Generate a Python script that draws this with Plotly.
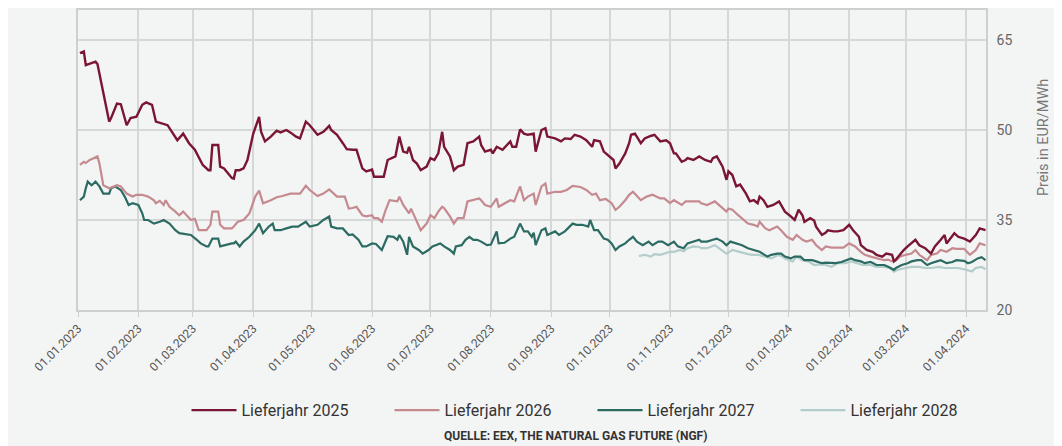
import plotly.graph_objects as go

# ---------------- data ----------------
dates_2025 = ["2023-01-02","2023-01-04","2023-01-05","2023-01-08","2023-01-10","2023-01-11","2023-01-17","2023-01-18",
"2023-01-21","2023-01-23","2023-01-26","2023-01-28","2023-01-31","2023-02-03","2023-02-05","2023-02-08","2023-02-10",
"2023-02-16","2023-02-19","2023-02-21","2023-02-24","2023-02-27","2023-03-02","2023-03-06","2023-03-09","2023-03-10",
"2023-03-11","2023-03-14","2023-03-15","2023-03-17","2023-03-21","2023-03-22","2023-03-23","2023-03-25","2023-03-27",
"2023-03-29","2023-04-01","2023-04-04","2023-04-05","2023-04-07","2023-04-10","2023-04-13","2023-04-15","2023-04-18",
"2023-04-20","2023-04-23","2023-04-25","2023-04-28","2023-04-30","2023-05-04","2023-05-07","2023-05-10","2023-05-11",
"2023-05-14","2023-05-17","2023-05-19","2023-05-22","2023-05-24","2023-05-27","2023-05-29","2023-06-01","2023-06-02",
"2023-06-07","2023-06-09","2023-06-13","2023-06-15","2023-06-17","2023-06-19","2023-06-20","2023-06-22","2023-06-24",
"2023-06-26","2023-06-29","2023-07-01","2023-07-03","2023-07-05","2023-07-07","2023-07-08","2023-07-11","2023-07-13",
"2023-07-15","2023-07-18","2023-07-20","2023-07-23","2023-07-26","2023-07-27","2023-07-29","2023-08-01","2023-08-02",
"2023-08-04","2023-08-07","2023-08-09","2023-08-11","2023-08-12","2023-08-14","2023-08-16","2023-08-18","2023-08-20",
"2023-08-23","2023-08-24","2023-08-27","2023-08-29","2023-08-30","2023-09-03","2023-09-06","2023-09-08","2023-09-11",
"2023-09-13","2023-09-16","2023-09-19","2023-09-22","2023-09-23","2023-09-26","2023-09-28","2023-09-30","2023-10-03",
"2023-10-04","2023-10-06","2023-10-09","2023-10-11","2023-10-12","2023-10-14","2023-10-17","2023-10-19","2023-10-22",
"2023-10-24","2023-10-27","2023-10-30","2023-11-01","2023-11-03","2023-11-04","2023-11-07","2023-11-09","2023-11-10",
"2023-11-13","2023-11-16","2023-11-19","2023-11-22","2023-11-23","2023-11-25","2023-11-28","2023-11-30","2023-12-01",
"2023-12-03","2023-12-05","2023-12-07","2023-12-10","2023-12-12","2023-12-14","2023-12-16","2023-12-17","2023-12-19",
"2023-12-21","2023-12-24","2023-12-27","2023-12-30","2024-01-02","2024-01-04","2024-01-06","2024-01-08","2024-01-09",
"2024-01-12","2024-01-14","2024-01-15","2024-01-18","2024-01-20","2024-01-21","2024-01-24","2024-01-26","2024-01-29",
"2024-02-01","2024-02-03","2024-02-06","2024-02-07","2024-02-10","2024-02-13","2024-02-15","2024-02-18","2024-02-20",
"2024-02-23","2024-02-24","2024-02-25","2024-02-27","2024-02-29","2024-03-02","2024-03-04","2024-03-06","2024-03-08",
"2024-03-11","2024-03-14","2024-03-16","2024-03-19","2024-03-21","2024-03-22","2024-03-24","2024-03-26","2024-03-28",
"2024-03-31","2024-04-03","2024-04-06","2024-04-08","2024-04-11"]
values_2025 = [62.8,63.1,60.8,61.1,61.4,61.0,51.4,52.0,
54.4,54.3,50.8,52.0,52.2,54.2,54.6,54.2,51.4,
50.8,49.4,48.3,49.4,47.8,46.7,44.2,43.3,43.3,
47.5,47.5,43.9,43.6,42.0,41.9,43.3,43.3,43.6,
45.0,49.4,52.2,49.7,48.1,48.9,49.9,49.6,50.0,
49.6,48.9,48.6,51.4,50.8,49.2,49.7,50.7,50.0,
49.2,47.8,46.8,46.7,46.7,43.6,43.1,43.4,42.2,
42.2,45.0,45.6,48.9,46.4,46.2,47.2,45.0,44.4,
43.3,43.9,45.3,45.0,46.1,49.7,47.2,45.6,43.3,
43.9,44.2,47.8,48.1,48.9,47.5,46.4,46.7,46.1,
47.2,46.7,47.5,48.1,47.2,47.2,50.1,49.4,49.2,
49.4,46.4,50.0,50.3,48.9,48.6,48.1,48.6,48.5,
49.2,48.9,48.3,47.2,48.3,48.1,46.4,45.8,45.0,
43.6,44.4,46.1,47.8,49.2,49.4,47.8,48.6,49.0,
49.2,48.1,48.3,47.8,46.1,46.1,44.7,45.0,45.3,
45.0,45.6,45.0,44.7,45.3,45.6,43.9,41.7,43.1,
42.5,40.6,40.9,39.4,38.1,38.3,37.8,38.9,38.3,
37.2,37.5,38.1,36.4,35.6,35.0,36.7,35.8,34.7,
35.3,34.9,33.9,32.5,32.9,33.3,33.1,33.1,33.3,
34.2,33.3,32.2,30.8,30.0,29.7,29.2,28.9,29.4,
29.2,28.1,28.4,29.2,30.0,30.6,31.1,31.7,30.8,
30.3,29.4,30.6,31.7,32.5,31.1,31.9,32.8,32.2,
31.9,31.4,32.5,33.6,33.3]

dates_2026 = ["2023-01-02","2023-01-04","2023-01-05","2023-01-07","2023-01-09","2023-01-11","2023-01-12","2023-01-14",
"2023-01-17","2023-01-19","2023-01-21","2023-01-23","2023-01-26","2023-01-29","2023-01-31","2023-02-03","2023-02-06",
"2023-02-09","2023-02-10","2023-02-12","2023-02-14","2023-02-15","2023-02-17","2023-02-20","2023-02-22","2023-02-24",
"2023-02-26","2023-02-28","2023-03-02","2023-03-04","2023-03-08","2023-03-10","2023-03-11","2023-03-14","2023-03-15",
"2023-03-17","2023-03-21","2023-03-22","2023-03-24","2023-03-27","2023-03-30","2023-04-02","2023-04-04","2023-04-06",
"2023-04-10","2023-04-13","2023-04-16","2023-04-20","2023-04-23","2023-04-25","2023-04-28","2023-04-30","2023-05-04",
"2023-05-07","2023-05-10","2023-05-11","2023-05-14","2023-05-18","2023-05-20","2023-05-22","2023-05-24","2023-05-27",
"2023-05-29","2023-06-01","2023-06-02","2023-06-04","2023-06-06","2023-06-08","2023-06-10","2023-06-14","2023-06-15",
"2023-06-17","2023-06-20","2023-06-21","2023-06-24","2023-06-26","2023-06-29","2023-07-01","2023-07-03","2023-07-05",
"2023-07-07","2023-07-08","2023-07-11","2023-07-13","2023-07-15","2023-07-18","2023-07-20","2023-07-23","2023-07-26",
"2023-07-27","2023-07-29","2023-08-01","2023-08-04","2023-08-05","2023-08-08","2023-08-11","2023-08-13","2023-08-16",
"2023-08-18","2023-08-20","2023-08-23","2023-08-24","2023-08-27","2023-08-29","2023-08-30","2023-09-03","2023-09-06",
"2023-09-09","2023-09-12","2023-09-16","2023-09-19","2023-09-22","2023-09-24","2023-09-26","2023-09-29","2023-10-02",
"2023-10-04","2023-10-06","2023-10-09","2023-10-11","2023-10-13","2023-10-17","2023-10-20","2023-10-23","2023-10-27",
"2023-10-29","2023-11-01","2023-11-03","2023-11-07","2023-11-09","2023-11-13","2023-11-16","2023-11-17","2023-11-20",
"2023-11-24","2023-11-26","2023-11-30","2023-12-01","2023-12-03","2023-12-06","2023-12-08","2023-12-11","2023-12-14",
"2023-12-16","2023-12-17","2023-12-20","2023-12-22","2023-12-26","2023-12-28","2023-12-31","2024-01-03","2024-01-05",
"2024-01-08","2024-01-10","2024-01-13","2024-01-15","2024-01-18","2024-01-20","2024-01-23","2024-01-26","2024-01-29",
"2024-02-01","2024-02-03","2024-02-04","2024-02-07","2024-02-09","2024-02-12","2024-02-15","2024-02-19","2024-02-21",
"2024-02-23","2024-02-25","2024-02-27","2024-03-01","2024-03-04","2024-03-06","2024-03-08","2024-03-12","2024-03-14",
"2024-03-17","2024-03-19","2024-03-22","2024-03-25","2024-03-27","2024-03-31","2024-04-03","2024-04-06","2024-04-08",
"2024-04-11"]
values_2026 = [44.2,44.7,44.5,45.0,45.3,45.6,44.4,40.8,
40.3,40.6,40.8,40.6,39.4,38.9,39.2,39.2,38.9,
38.3,37.8,38.2,37.5,38.3,37.2,36.4,35.8,36.4,
35.6,35.0,35.2,33.3,33.3,34.2,36.4,36.4,34.2,
33.6,33.6,33.9,34.7,35.0,36.1,38.9,39.9,37.8,
38.3,38.8,39.0,39.4,39.4,39.4,40.7,40.0,39.0,
39.4,40.1,39.8,38.9,38.9,36.9,37.0,37.2,35.8,
35.6,35.8,35.3,35.3,34.7,36.7,38.3,38.1,38.9,
37.5,36.1,36.9,34.7,33.3,34.4,35.8,35.3,36.4,
37.2,37.0,35.6,34.4,35.3,35.3,38.1,38.3,38.6,
38.3,37.5,37.2,38.6,37.2,37.8,38.3,38.1,40.6,
38.3,38.9,39.4,37.5,40.6,41.1,39.4,39.7,39.7,
40.0,40.7,40.5,40.0,39.2,39.4,38.3,38.5,37.8,
36.7,37.2,38.3,39.2,39.7,38.3,38.9,39.2,38.6,
38.6,37.8,38.3,37.5,38.1,38.1,38.1,37.8,37.5,
38.1,37.5,36.4,36.9,36.7,35.8,35.3,34.4,34.2,
33.9,34.7,33.6,33.3,33.9,33.3,32.2,31.7,32.5,
31.7,31.4,31.7,30.8,30.0,30.6,30.4,30.4,30.4,
31.1,30.7,30.6,29.7,29.2,28.9,28.6,28.3,28.4,
28.1,28.3,28.9,29.2,29.4,30.0,29.2,28.3,29.2,
29.4,30.0,29.7,30.3,30.2,30.2,29.2,30.0,31.1,
30.8]

dates_2027 = ["2023-01-02","2023-01-04","2023-01-05","2023-01-06","2023-01-08","2023-01-10","2023-01-12","2023-01-14",
"2023-01-17","2023-01-18","2023-01-20","2023-01-23","2023-01-25","2023-01-27","2023-01-29","2023-02-01","2023-02-03",
"2023-02-04","2023-02-06","2023-02-09","2023-02-12","2023-02-14","2023-02-17","2023-02-20","2023-02-22","2023-02-25",
"2023-02-28","2023-03-03","2023-03-05","2023-03-08","2023-03-09","2023-03-11","2023-03-14","2023-03-15","2023-03-17",
"2023-03-21","2023-03-22","2023-03-23","2023-03-25","2023-03-27","2023-03-30","2023-04-02","2023-04-04","2023-04-06",
"2023-04-09","2023-04-11","2023-04-12","2023-04-15","2023-04-18","2023-04-21","2023-04-24","2023-04-28","2023-04-30",
"2023-05-04","2023-05-07","2023-05-10","2023-05-11","2023-05-14","2023-05-17","2023-05-20","2023-05-22","2023-05-25",
"2023-05-27","2023-05-29","2023-06-01","2023-06-03","2023-06-06","2023-06-08","2023-06-09","2023-06-12","2023-06-14",
"2023-06-15","2023-06-17","2023-06-19","2023-06-20","2023-06-22","2023-06-25","2023-06-27","2023-06-30","2023-07-02",
"2023-07-06","2023-07-08","2023-07-11","2023-07-13","2023-07-14","2023-07-17","2023-07-19","2023-07-21","2023-07-23",
"2023-07-25","2023-07-27","2023-07-30","2023-08-01","2023-08-04","2023-08-05","2023-08-08","2023-08-11","2023-08-13",
"2023-08-16","2023-08-18","2023-08-20","2023-08-22","2023-08-23","2023-08-24","2023-08-27","2023-08-29","2023-08-30",
"2023-09-03","2023-09-05","2023-09-08","2023-09-12","2023-09-14","2023-09-17","2023-09-20","2023-09-21","2023-09-23",
"2023-09-25","2023-09-28","2023-09-30","2023-10-02","2023-10-04","2023-10-06","2023-10-09","2023-10-11","2023-10-13",
"2023-10-15","2023-10-18","2023-10-21","2023-10-23","2023-10-26","2023-10-28","2023-10-31","2023-11-03","2023-11-05",
"2023-11-08","2023-11-10","2023-11-13","2023-11-16","2023-11-17","2023-11-20","2023-11-23","2023-11-25","2023-11-28",
"2023-11-30","2023-12-02","2023-12-05","2023-12-08","2023-12-11","2023-12-14","2023-12-17","2023-12-21","2023-12-23",
"2023-12-26","2023-12-28","2023-12-30","2024-01-02","2024-01-04","2024-01-07","2024-01-09","2024-01-13","2024-01-15",
"2024-01-18","2024-01-20","2024-01-23","2024-01-25","2024-01-28","2024-01-31","2024-02-02","2024-02-04","2024-02-07",
"2024-02-09","2024-02-12","2024-02-15","2024-02-19","2024-02-21","2024-02-24","2024-02-25","2024-02-28","2024-03-02",
"2024-03-04","2024-03-07","2024-03-09","2024-03-12","2024-03-14","2024-03-17","2024-03-19","2024-03-22","2024-03-25",
"2024-03-27","2024-03-31","2024-04-02","2024-04-04","2024-04-07","2024-04-09","2024-04-11"]
values_2027 = [38.3,38.9,40.3,41.4,40.8,41.4,40.6,39.4,
39.4,40.3,40.6,40.0,38.9,37.5,37.8,37.5,36.1,
35.0,35.0,34.4,34.7,35.0,34.4,33.3,32.8,32.7,
32.5,31.7,31.1,30.6,30.6,31.9,31.9,30.6,30.8,
31.1,31.1,31.4,30.6,31.4,32.2,33.3,34.4,32.8,
33.9,34.4,33.3,33.3,33.6,33.9,33.9,34.7,33.9,
34.2,35.0,35.6,33.9,33.6,33.6,32.5,32.6,31.7,
30.6,30.6,31.1,31.0,30.0,31.4,32.3,32.2,31.7,
32.5,31.4,29.2,32.2,30.6,30.0,29.4,30.0,30.6,
31.1,30.6,30.0,29.4,30.6,30.8,31.7,32.2,31.7,
31.7,31.4,30.8,30.9,33.1,31.1,31.2,31.9,32.2,
34.4,33.1,33.1,32.2,32.9,30.8,33.3,33.6,32.5,
33.1,32.5,33.1,34.4,34.2,34.2,33.9,35.0,33.3,
33.3,31.9,31.7,31.1,30.0,30.6,31.1,31.7,32.2,
31.4,30.8,31.4,30.8,31.4,31.4,30.8,31.4,30.6,
30.3,31.1,31.4,31.7,31.4,31.4,31.7,31.9,31.4,
30.8,31.4,31.1,30.8,30.3,30.0,29.7,28.9,29.2,
29.4,29.4,28.9,28.6,28.9,28.9,28.3,28.3,28.1,
27.8,27.9,27.9,27.8,28.0,28.3,28.6,28.3,28.1,
27.8,28.0,27.5,27.5,27.2,26.7,27.0,27.5,27.8,
28.1,28.3,28.3,27.5,27.8,28.1,28.3,27.8,28.0,
28.3,28.2,27.8,28.0,28.6,28.8,28.3]

dates_2028 = ["2023-10-16","2023-10-19","2023-10-22","2023-10-24","2023-10-27","2023-10-29","2023-11-01","2023-11-03",
"2023-11-06","2023-11-08","2023-11-10","2023-11-13","2023-11-16","2023-11-17","2023-11-20","2023-11-24","2023-11-26",
"2023-11-30","2023-12-03","2023-12-06","2023-12-10","2023-12-13","2023-12-16","2023-12-20","2023-12-23","2023-12-27",
"2023-12-30","2024-01-03","2024-01-05","2024-01-08","2024-01-11","2024-01-14","2024-01-17","2024-01-20","2024-01-23",
"2024-01-26","2024-01-30","2024-02-02","2024-02-05","2024-02-08","2024-02-12","2024-02-15","2024-02-19","2024-02-22",
"2024-02-24","2024-02-26","2024-03-01","2024-03-04","2024-03-08","2024-03-11","2024-03-14","2024-03-18","2024-03-21",
"2024-03-25","2024-03-28","2024-04-01","2024-04-04","2024-04-06","2024-04-09","2024-04-11"]
values_2028 = [29.0,29.2,28.9,29.3,29.2,29.4,29.7,29.7,
30.0,29.8,30.3,30.6,30.5,30.3,30.3,30.8,30.3,
29.4,30.0,29.7,29.4,29.2,29.2,28.9,28.6,29.2,
28.6,28.1,28.9,28.3,28.1,27.5,27.6,27.5,27.2,
27.8,27.8,28.1,27.8,27.5,27.5,27.2,27.2,27.0,
26.4,26.7,27.0,27.2,27.2,27.0,27.0,27.2,27.0,
27.0,27.0,26.7,26.4,27.0,27.2,26.8]

series_names = ["Lieferjahr 2025", "Lieferjahr 2026", "Lieferjahr 2027", "Lieferjahr 2028"]
y_ticks = [20, 35, 50, 65]
source_text = "QUELLE: EEX, THE NATURAL GAS FUTURE (NGF)"
y_title = "Preis in EUR/MWh"

# ---------------- figure ----------------
colors = ["#7a1634", "#c58a90", "#2c6b62", "#b3cdca"]
widths = [2.4, 2.2, 2.2, 2.2]
all_dates = [dates_2025, dates_2026, dates_2027, dates_2028]
all_values = [values_2025, values_2026, values_2027, values_2028]

fig = go.Figure()
# draw lighter/back lines first so the dark line stays on top
for i in [3, 2, 1, 0]:
    fig.add_trace(go.Scatter(
        x=all_dates[i], y=all_values[i], mode="lines", name=series_names[i],
        line=dict(color=colors[i], width=widths[i]), legendrank=i + 1,
    ))

bg = "#f3f4f4"
grid = "#d6d7d7"
# the page adds an 8px body margin, so the figure is 8px smaller and margins shifted
fig.update_layout(
    width=1054, height=438,
    paper_bgcolor=bg, plot_bgcolor=bg,
    margin=dict(l=70, r=76, t=2, b=136, autoexpand=False),
    font=dict(family="Roboto, Arial, sans-serif", color="#555555"),
    showlegend=True,
    legend=dict(orientation="h", x=0.1195, xanchor="left", y=-0.334, yanchor="middle",
                font=dict(size=16, color="#333333"), traceorder="normal", itemwidth=45,
                entrywidth=143, entrywidthmode="pixels", bgcolor="rgba(0,0,0,0)"),
    xaxis=dict(
        type="date", range=["2023-01-01", "2024-04-11 06:00"], automargin=False,
        dtick="M1", tick0="2023-01-01", tickformat="%d.%m.%Y", tickangle=-45,
        tickfont=dict(size=12, color="#555555"),
        showgrid=True, gridcolor=grid, gridwidth=1.5,
        showline=True, linecolor="#cfcfcf", linewidth=1.5, mirror=True,
        ticks="outside", ticklen=5, tickcolor="#cfcfcf", zeroline=False,
    ),
    yaxis=dict(
        side="right", range=[20, 70], tickvals=y_ticks, automargin=False,
        tickfont=dict(size=14, color="#666666"),
        showgrid=True, gridcolor=grid, gridwidth=1.5,
        showline=True, linecolor="#cfcfcf", linewidth=1.5, mirror=True,
        ticks="", zeroline=False, ticklabelstandoff=6,
    ),
    annotations=[
        dict(text=y_title, x=1.0628, y=0.573, xref="paper", yref="paper", textangle=-90,
             showarrow=False, font=dict(size=14.5, color="#777777"), xanchor="center", yanchor="middle"),
        dict(text="<b>" + source_text + "</b>", x=0.548, y=-0.42, xref="paper", yref="paper",
             showarrow=False, font=dict(size=12, color="#333333"), xanchor="center", yanchor="middle"),
    ],
)

fig.write_html("out.html")
